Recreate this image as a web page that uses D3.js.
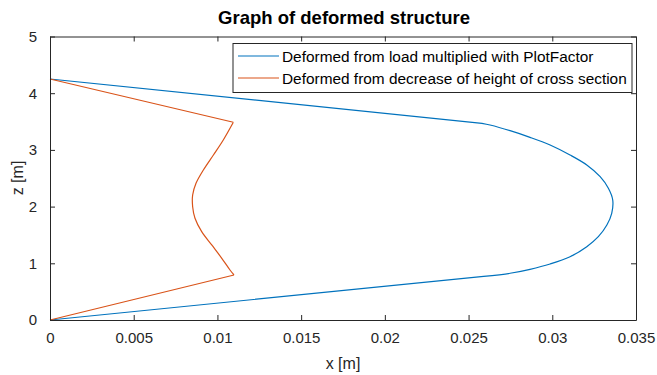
<!DOCTYPE html>
<html>
<head>
<meta charset="utf-8">
<script src="https://cdn.jsdelivr.net/npm/d3@7"></script>
<style>
  body { margin: 0; background: #fff; }
  svg { font-family: "Liberation Sans", Arial, sans-serif; }
</style>
</head>
<body>
<svg width="657" height="375"></svg>
<script>
// data
const zLoad = [0, 0.77, 0.824, 0.894, 0.988, 1.116, 1.293, 1.469, 1.675, 1.882, 2.116, 2.323, 2.527, 2.734, 2.91, 3.086, 3.222, 3.339, 3.439, 3.469, 4.25];
const xLoad = [0, 0.0259, 0.02748, 0.02867, 0.02987, 0.03106, 0.03206, 0.03275, 0.03326, 0.03355, 0.03361, 0.03335, 0.03286, 0.03206, 0.03106, 0.02987, 0.02867, 0.02748, 0.02628, 0.0258, 0];
const zHeight = [0, 0.794, 0.882, 1.088, 1.323, 1.558, 1.794, 1.998, 2.205, 2.411, 2.646, 2.91, 3.175, 3.487, 4.25];
const xHeight = [0, 0.01099, 0.01075, 0.01026, 0.00966, 0.00906, 0.00866, 0.00852, 0.00852, 0.00872, 0.00916, 0.00976, 0.01035, 0.01095, 0];
const xTicks = [0, 0.005, 0.01, 0.015, 0.02, 0.025, 0.03, 0.035];
const zTicks = [0, 1, 2, 3, 4, 5];
const seriesNames = ["Deformed from load multiplied with PlotFactor", "Deformed from decrease of height of cross section"];
const colors = ["#0072BD", "#D95319"];

const svg = d3.select("svg");
const mLeft = 50, mRight = 636, mTop = 36.5, mBottom = 320;
const txt = "#262626";

const x = d3.scaleLinear().domain([0, 0.035]).range([mLeft, mRight]);
const y = d3.scaleLinear().domain([0, 5]).range([mBottom, mTop]);

// lines: straight ends, smooth middle
const straight = d3.line().x(d => x(d[0])).y(d => y(d[1]));
const smooth = d3.line().x(d => x(d[0])).y(d => y(d[1])).curve(d3.curveCatmullRom.alpha(0.5));
[[xLoad, zLoad], [xHeight, zHeight]].forEach(([xs, zs], i) => {
  const pts = xs.map((v, j) => [v, zs[j]]);
  const n = pts.length;
  const d = straight(pts.slice(0, 2)) + smooth(pts.slice(1, n - 1)) + straight(pts.slice(n - 2));
  svg.append("path")
    .attr("d", d)
    .attr("fill", "none")
    .attr("stroke", colors[i])
    .attr("stroke-width", 1.2)
    .attr("stroke-linejoin", "round");
});

// axes (ticks inside, box on)
const fmt = d => String(+d.toFixed(3));
svg.append("g").attr("transform", `translate(0,${mBottom})`)
  .call(d3.axisBottom(x).tickValues(xTicks).tickSizeInner(-5).tickSizeOuter(0).tickPadding(12).tickFormat(fmt));
svg.append("g").attr("transform", `translate(0,${mTop})`)
  .call(d3.axisTop(x).tickValues(xTicks).tickSizeInner(-5).tickSizeOuter(0).tickFormat(""));
svg.append("g").attr("transform", `translate(${mLeft},0)`)
  .call(d3.axisLeft(y).tickValues(zTicks).tickSizeInner(-5).tickSizeOuter(0).tickPadding(13).tickFormat(fmt));
svg.append("g").attr("transform", `translate(${mRight},0)`)
  .call(d3.axisRight(y).tickValues(zTicks).tickSizeInner(-5).tickSizeOuter(0).tickFormat(""));

svg.selectAll(".domain").attr("stroke", txt);
svg.selectAll(".tick line").attr("stroke", txt);
svg.selectAll(".tick text").attr("fill", txt).style("font-size", "15px").style("font-family", "Liberation Sans, Arial, sans-serif");

// titles
svg.append("text").attr("x", 344).attr("y", 24).attr("text-anchor", "middle")
  .style("font-size", "18.5px").style("font-weight", "bold").attr("fill", "#000")
  .text("Graph of deformed structure");
svg.append("text").attr("x", 343).attr("y", 369).attr("text-anchor", "middle")
  .style("font-size", "16px").attr("fill", txt).text("x [m]");
svg.append("text").attr("transform", "translate(23,178) rotate(-90)").attr("text-anchor", "middle")
  .style("font-size", "16px").attr("fill", txt).text("z [m]");

// legend
const lg = svg.append("g");
lg.append("rect").attr("x", 233).attr("y", 43.5).attr("width", 399).attr("height", 49)
  .attr("fill", "#fff").attr("stroke", txt).attr("stroke-width", 1);
seriesNames.forEach((n, i) => {
  const ly = 56 + i * 22;
  lg.append("line").attr("x1", 238).attr("x2", 279).attr("y1", ly).attr("y2", ly)
    .attr("stroke", colors[i]).attr("stroke-width", 1.2);
  lg.append("text").attr("x", 282).attr("y", ly + 5.5).style("font-size", "15.4px")
    .attr("fill", "#000").text(n);
});
</script>
</body>
</html>
